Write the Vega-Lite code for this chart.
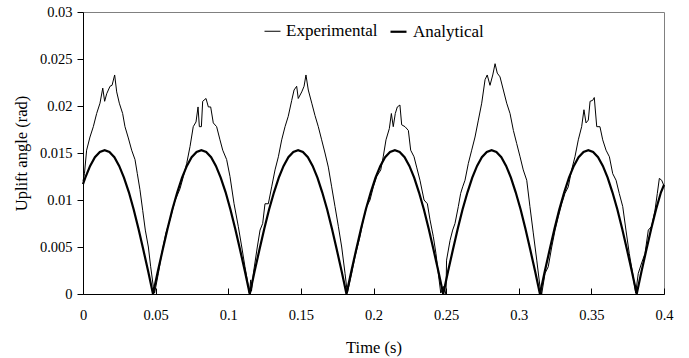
{
"$schema": "https://vega.github.io/schema/vega-lite/v6.json",
"width": 581, "height": 282,
"autosize": {"type": "none"},
"padding": {"left": 83, "top": 12, "right": 25, "bottom": 64},
"config": {
  "font": "Liberation Serif",
  "view": {"stroke": "#808080", "strokeWidth": 1},
  "axis": {"labelFont": "Liberation Serif", "titleFont": "Liberation Serif", "labelFontSize": 14.5, "titleFontSize": 16.5, "labelColor": "black", "titleColor": "black", "titleFontWeight": "normal", "domainColor": "black", "tickColor": "black", "grid": false},
  "legend": {"labelFont": "Liberation Serif", "labelFontSize": 17, "labelColor": "black"}
},
"datasets": {
"exp": [
{"t":0,"v":0.0120},{"t":0.001,"v":0.0128},{"t":0.0025,"v":0.0153},{"t":0.0048,"v":0.0167},{"t":0.0071,"v":0.0178},{"t":0.0094,"v":0.0192},{"t":0.0117,"v":0.0203},{"t":0.0136,"v":0.0219},{"t":0.0149,"v":0.0205},{"t":0.0163,"v":0.0213},{"t":0.0186,"v":0.0221},{"t":0.0200,"v":0.0222},{"t":0.0218,"v":0.0233},{"t":0.0232,"v":0.0215},{"t":0.025,"v":0.0203},{"t":0.0273,"v":0.0192},{"t":0.0289,"v":0.0178},{"t":0.0312,"v":0.0166},{"t":0.0335,"v":0.0153},{"t":0.0358,"v":0.0143},{"t":0.0374,"v":0.0128},{"t":0.0392,"v":0.0111},{"t":0.0411,"v":0.0089},{"t":0.0429,"v":0.0068},{"t":0.045,"v":0.005},{"t":0.0466,"v":0.0029},{"t":0.0484,"v":0.0008},{"t":0.0493,"v":0.0001},
{"t":0.0519,"v":0.0022},{"t":0.0542,"v":0.0043},{"t":0.0571,"v":0.0065},{"t":0.0599,"v":0.0079},{"t":0.0633,"v":0.0099},{"t":0.0668,"v":0.0112},{"t":0.0691,"v":0.0125},{"t":0.0714,"v":0.0139},{"t":0.0737,"v":0.0157},{"t":0.0759,"v":0.0178},{"t":0.0778,"v":0.0183},{"t":0.0792,"v":0.0199},{"t":0.0801,"v":0.0178},{"t":0.0815,"v":0.0178},{"t":0.0824,"v":0.0205},{"t":0.0847,"v":0.0208},{"t":0.0863,"v":0.0199},{"t":0.0879,"v":0.0199},{"t":0.0897,"v":0.0182},{"t":0.092,"v":0.0178},{"t":0.0943,"v":0.0164},{"t":0.0962,"v":0.0153},{"t":0.0989,"v":0.0143},{"t":0.1012,"v":0.0125},{"t":0.104,"v":0.0096},{"t":0.1069,"v":0.0072},{"t":0.1093,"v":0.005},{"t":0.1115,"v":0.0029},{"t":0.1131,"v":0.0015},{"t":0.1145,"v":0.0001},
{"t":0.1155,"v":0.0015},{"t":0.116,"v":0.0003},{"t":0.1173,"v":0.0022},{"t":0.12,"v":0.005},{"t":0.1219,"v":0.0068},{"t":0.1237,"v":0.0075},{"t":0.1253,"v":0.0096},{"t":0.1276,"v":0.0096},{"t":0.1299,"v":0.0114},{"t":0.1322,"v":0.0132},{"t":0.1345,"v":0.0146},{"t":0.1368,"v":0.0164},{"t":0.1391,"v":0.0178},{"t":0.1413,"v":0.0189},{"t":0.1437,"v":0.0206},{"t":0.1453,"v":0.0217},{"t":0.1471,"v":0.0221},{"t":0.1482,"v":0.0208},{"t":0.1506,"v":0.0215},{"t":0.1522,"v":0.0221},{"t":0.1535,"v":0.0233},{"t":0.1551,"v":0.0217},{"t":0.1575,"v":0.0203},{"t":0.1597,"v":0.019},{"t":0.162,"v":0.0178},{"t":0.1643,"v":0.0164},{"t":0.1666,"v":0.015},{"t":0.1689,"v":0.0135},{"t":0.1712,"v":0.0114},{"t":0.1735,"v":0.0093},{"t":0.1758,"v":0.0072},{"t":0.1781,"v":0.005},{"t":0.1804,"v":0.0022},{"t":0.182,"v":0.0001},
{"t":0.185,"v":0.0022},{"t":0.1873,"v":0.004},{"t":0.1907,"v":0.0061},{"t":0.193,"v":0.0079},{"t":0.1953,"v":0.0093},{"t":0.1976,"v":0.01},{"t":0.1999,"v":0.0114},{"t":0.2022,"v":0.0125},{"t":0.205,"v":0.0132},{"t":0.2067,"v":0.0146},{"t":0.2086,"v":0.0164},{"t":0.2109,"v":0.0176},{"t":0.2123,"v":0.0192},{"t":0.2136,"v":0.0178},{"t":0.215,"v":0.0192},{"t":0.2164,"v":0.0199},{"t":0.2182,"v":0.0201},{"t":0.2194,"v":0.018},{"t":0.2217,"v":0.0178},{"t":0.224,"v":0.0174},{"t":0.2256,"v":0.0153},{"t":0.2279,"v":0.0146},{"t":0.2297,"v":0.0135},{"t":0.232,"v":0.0121},{"t":0.2348,"v":0.01},{"t":0.2371,"v":0.0096},{"t":0.2389,"v":0.0079},{"t":0.2412,"v":0.0061},{"t":0.243,"v":0.0043},{"t":0.2446,"v":0.0022},{"t":0.2463,"v":0.0001},{"t":0.2481,"v":0.0008},{"t":0.2499,"v":0.0},
{"t":0.2503,"v":0.0036},{"t":0.2527,"v":0.0057},{"t":0.2545,"v":0.0068},{"t":0.2561,"v":0.0075},{"t":0.2584,"v":0.0093},{"t":0.26,"v":0.0107},{"t":0.2614,"v":0.0114},{"t":0.263,"v":0.0121},{"t":0.2653,"v":0.0139},{"t":0.2676,"v":0.0153},{"t":0.2699,"v":0.0167},{"t":0.2722,"v":0.0185},{"t":0.2745,"v":0.0203},{"t":0.2768,"v":0.0228},{"t":0.2783,"v":0.0233},{"t":0.2802,"v":0.0222},{"t":0.2821,"v":0.0233},{"t":0.2837,"v":0.0245},{"t":0.2852,"v":0.0235},{"t":0.2871,"v":0.0231},{"t":0.2894,"v":0.0217},{"t":0.2917,"v":0.0203},{"t":0.294,"v":0.0192},{"t":0.2963,"v":0.0174},{"t":0.2986,"v":0.016},{"t":0.3009,"v":0.0146},{"t":0.3031,"v":0.0132},{"t":0.3055,"v":0.0121},{"t":0.3077,"v":0.0093},{"t":0.31,"v":0.0065},{"t":0.3124,"v":0.0036},{"t":0.3146,"v":0.0008},{"t":0.3158,"v":0.0},
{"t":0.3181,"v":0.0022},{"t":0.3203,"v":0.0029},{"t":0.3227,"v":0.005},{"t":0.325,"v":0.0068},{"t":0.3272,"v":0.0082},{"t":0.3296,"v":0.0096},{"t":0.3318,"v":0.0107},{"t":0.3341,"v":0.0114},{"t":0.3364,"v":0.0132},{"t":0.3387,"v":0.0146},{"t":0.341,"v":0.0164},{"t":0.3433,"v":0.0178},{"t":0.3449,"v":0.0196},{"t":0.3463,"v":0.0182},{"t":0.3479,"v":0.0185},{"t":0.3491,"v":0.0205},{"t":0.3509,"v":0.0206},{"t":0.352,"v":0.0209},{"t":0.3537,"v":0.0178},{"t":0.3559,"v":0.0178},{"t":0.3578,"v":0.0164},{"t":0.3601,"v":0.0153},{"t":0.3624,"v":0.0146},{"t":0.3647,"v":0.0128},{"t":0.367,"v":0.0121},{"t":0.3692,"v":0.0107},{"t":0.3716,"v":0.0093},{"t":0.3738,"v":0.0068},{"t":0.3761,"v":0.0043},{"t":0.3784,"v":0.0022},{"t":0.3805,"v":0.0001},
{"t":0.3823,"v":0.0022},{"t":0.3846,"v":0.0033},{"t":0.3869,"v":0.0043},{"t":0.3892,"v":0.0068},{"t":0.3915,"v":0.0072},{"t":0.3938,"v":0.0089},{"t":0.3954,"v":0.0107},{"t":0.3968,"v":0.0123},{"t":0.3984,"v":0.0121},{"t":0.4,"v":0.0115}
],
"ana": [
{"t":0,"v":0.0117},{"t":0.0016,"v":0.01238},{"t":0.0049,"v":0.01363},{"t":0.0082,"v":0.01455},{"t":0.0116,"v":0.01511},{"t":0.0149,"v":0.0153},{"t":0.0182,"v":0.01511},{"t":0.0216,"v":0.01455},{"t":0.0249,"v":0.01363},{"t":0.0282,"v":0.01238},{"t":0.0316,"v":0.01082},{"t":0.0349,"v":0.00899},{"t":0.0382,"v":0.00695},{"t":0.0415,"v":0.00473},{"t":0.0449,"v":0.00239},{"t":0.0482,"v":0},
{"t":0.0515,"v":0.00239},{"t":0.0549,"v":0.00473},{"t":0.0582,"v":0.00695},{"t":0.0615,"v":0.00899},{"t":0.0649,"v":0.01082},{"t":0.0682,"v":0.01238},{"t":0.0715,"v":0.01363},{"t":0.0748,"v":0.01455},{"t":0.0782,"v":0.01511},{"t":0.0815,"v":0.0153},{"t":0.0848,"v":0.01511},{"t":0.0882,"v":0.01455},{"t":0.0915,"v":0.01363},{"t":0.0948,"v":0.01238},{"t":0.0982,"v":0.01082},{"t":0.1015,"v":0.00899},{"t":0.1048,"v":0.00695},{"t":0.1081,"v":0.00473},{"t":0.1115,"v":0.00239},{"t":0.1148,"v":0},
{"t":0.1181,"v":0.00239},{"t":0.1215,"v":0.00473},{"t":0.1248,"v":0.00695},{"t":0.1281,"v":0.00899},{"t":0.1315,"v":0.01082},{"t":0.1348,"v":0.01238},{"t":0.1381,"v":0.01363},{"t":0.1414,"v":0.01455},{"t":0.1448,"v":0.01511},{"t":0.1481,"v":0.0153},{"t":0.1514,"v":0.01511},{"t":0.1548,"v":0.01455},{"t":0.1581,"v":0.01363},{"t":0.1614,"v":0.01238},{"t":0.1647,"v":0.01082},{"t":0.1681,"v":0.00899},{"t":0.1714,"v":0.00695},{"t":0.1747,"v":0.00473},{"t":0.1781,"v":0.00239},{"t":0.1814,"v":0},
{"t":0.1847,"v":0.00239},{"t":0.1881,"v":0.00473},{"t":0.1914,"v":0.00695},{"t":0.1947,"v":0.00899},{"t":0.1981,"v":0.01082},{"t":0.2014,"v":0.01238},{"t":0.2047,"v":0.01363},{"t":0.208,"v":0.01455},{"t":0.2114,"v":0.01511},{"t":0.2147,"v":0.0153},{"t":0.218,"v":0.01511},{"t":0.2214,"v":0.01455},{"t":0.2247,"v":0.01363},{"t":0.228,"v":0.01238},{"t":0.2313,"v":0.01082},{"t":0.2347,"v":0.00899},{"t":0.238,"v":0.00695},{"t":0.2413,"v":0.00473},{"t":0.2447,"v":0.00239},{"t":0.248,"v":0},
{"t":0.2513,"v":0.00239},{"t":0.2547,"v":0.00473},{"t":0.258,"v":0.00695},{"t":0.2613,"v":0.00899},{"t":0.2647,"v":0.01082},{"t":0.268,"v":0.01238},{"t":0.2713,"v":0.01363},{"t":0.2746,"v":0.01455},{"t":0.278,"v":0.01511},{"t":0.2813,"v":0.0153},{"t":0.2846,"v":0.01511},{"t":0.288,"v":0.01455},{"t":0.2913,"v":0.01363},{"t":0.2946,"v":0.01238},{"t":0.2979,"v":0.01082},{"t":0.3013,"v":0.00899},{"t":0.3046,"v":0.00695},{"t":0.3079,"v":0.00473},{"t":0.3113,"v":0.00239},{"t":0.3146,"v":0},
{"t":0.3179,"v":0.00239},{"t":0.3213,"v":0.00473},{"t":0.3246,"v":0.00695},{"t":0.3279,"v":0.00899},{"t":0.3313,"v":0.01082},{"t":0.3346,"v":0.01238},{"t":0.3379,"v":0.01363},{"t":0.3412,"v":0.01455},{"t":0.3446,"v":0.01511},{"t":0.3479,"v":0.0153},{"t":0.3512,"v":0.01511},{"t":0.3546,"v":0.01455},{"t":0.3579,"v":0.01363},{"t":0.3612,"v":0.01238},{"t":0.3645,"v":0.01082},{"t":0.3679,"v":0.00899},{"t":0.3712,"v":0.00695},{"t":0.3745,"v":0.00473},{"t":0.3779,"v":0.00239},{"t":0.3812,"v":0},
{"t":0.3845,"v":0.00239},{"t":0.3879,"v":0.00473},{"t":0.3912,"v":0.00695},{"t":0.3945,"v":0.00899},{"t":0.3979,"v":0.01082},{"t":0.4,"v":0.0116}
]
},
"encoding": {
  "x": {"field": "t", "type": "quantitative", "scale": {"domain": [0, 0.4], "nice": false},
    "axis": {"values": [0, 0.05, 0.1, 0.15, 0.2, 0.25, 0.3, 0.35, 0.4], "labelExpr": "'' + datum.value", "tickSize": -6, "labelPadding": 20, "title": "Time (s)", "titleBaseline": "alphabetic", "titleY": 58, "labelFlush": false}},
  "y": {"field": "v", "type": "quantitative", "scale": {"domain": [0, 0.03], "nice": false},
    "axis": {"values": [0, 0.005, 0.01, 0.015, 0.02, 0.025, 0.03], "labelExpr": "'' + datum.value", "tickSize": 6, "labelPadding": 5, "title": "Uplift angle (rad)", "titleBaseline": "alphabetic", "titleX": -57, "titleAngle": -90}},
  "color": {"field": "s", "type": "nominal", "scale": {"domain": ["Experimental", "Analytical"], "range": ["black", "black"]},
    "legend": {"orient": "none", "legendX": 181, "legendY": 10, "direction": "horizontal", "title": null, "symbolType": "stroke", "symbolSize": 256, "labelOffset": 5, "columnPadding": 8}},
  "strokeWidth": {"field": "s", "type": "nominal", "scale": {"domain": ["Experimental", "Analytical"], "range": [1, 2.2]},
    "legend": {"orient": "none", "legendX": 181, "legendY": 10, "direction": "horizontal", "title": null, "symbolType": "stroke", "symbolSize": 256, "labelOffset": 5, "columnPadding": 8}}
},
"layer": [
 {
  "data": {"name": "exp"},
  "transform": [{"calculate": "'Experimental'", "as": "s"}],
  "mark": {"type": "line", "color": "black"}
 },
 {
  "data": {"name": "ana"},
  "transform": [{"calculate": "'Analytical'", "as": "s"}],
  "mark": {"type": "line", "color": "black"}
 }
]
}
